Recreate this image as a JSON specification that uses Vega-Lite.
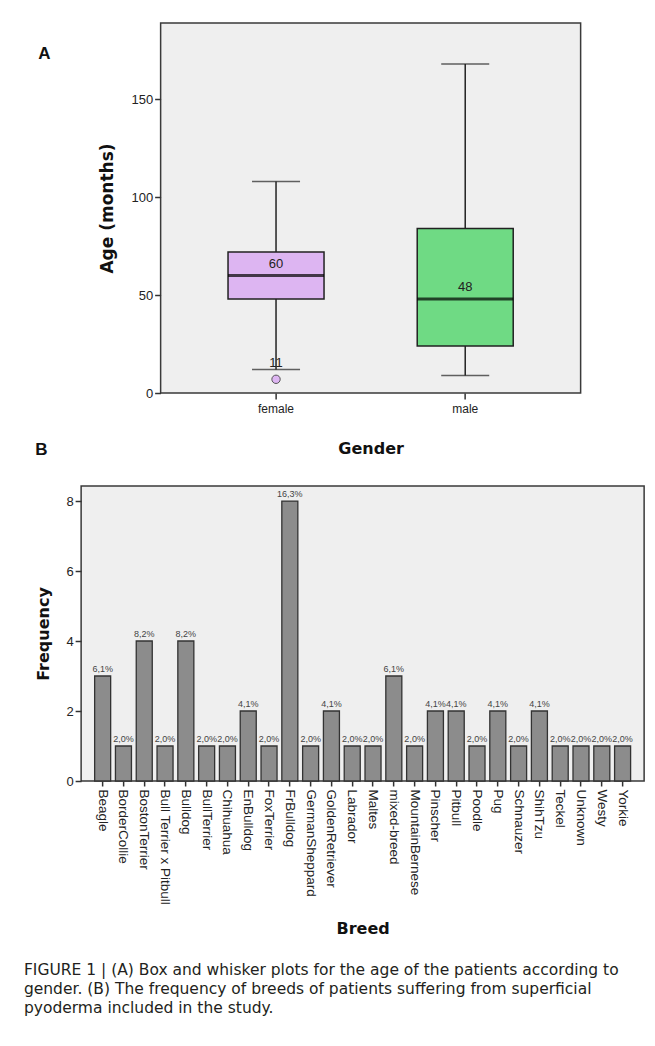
{
  "$schema": "https://vega.github.io/schema/vega-lite/v6.json",
  "background": "white",
  "padding": {"left": 23, "top": 22, "right": 5, "bottom": 5},
  "center": true,
  "spacing": -16,
  "title": {"text": "A", "anchor": "start", "frame": "bounds", "fontSize": 17, "fontWeight": "bold", "font": "Liberation Sans", "color": "#111", "dx": 15, "dy": 41, "offset": 0},
  "config": {
    "view": {"fill": "#EFEFEF", "stroke": "#3a3a3a", "strokeWidth": 1.5},
    "axis": {
      "labelFont": "Liberation Sans", "labelFontSize": 13, "labelColor": "#222",
      "titleFont": "DejaVu Sans", "titleFontWeight": "bold", "titleFontSize": 16, "titleColor": "#111",
      "tickColor": "#333", "domainColor": "#333", "grid": false, "tickSize": 6,
      "domainWidth": 1.5, "tickWidth": 1.5
    }
  },
  "vconcat": [
    {
      "width": 420,
      "height": 370,
      "data": {"values": [
        {"gender": "female", "min": 12, "q1": 48, "median": 60, "q3": 72, "max": 108, "medianLabel": "60"},
        {"gender": "male", "min": 9, "q1": 24, "median": 48, "q3": 84, "max": 168, "medianLabel": "48"}
      ]},
      "encoding": {
        "x": {"field": "gender", "type": "nominal", "sort": null,
          "scale": {"paddingInner": 0, "paddingOuter": 0.11},
          "axis": {"title": "Gender", "labelAngle": 0, "labelFontSize": 12, "labelPadding": 4, "titlePadding": 26, "domain": false}}
      },
      "layer": [
        {"mark": {"type": "rule", "color": "#222", "strokeWidth": 1.5},
         "encoding": {
           "y": {"field": "min", "type": "quantitative", "scale": {"domain": [0, 189], "nice": false},
             "axis": {"title": "Age (months)", "values": [0, 50, 100, 150], "domain": false, "titlePadding": 14, "titleFontSize": 17}},
           "y2": {"field": "max"}}},
        {"mark": {"type": "tick", "color": "#222", "thickness": 1.5, "size": 48, "orient": "horizontal"},
         "encoding": {"y": {"field": "min", "type": "quantitative"}}},
        {"mark": {"type": "tick", "color": "#222", "thickness": 1.5, "size": 48, "orient": "horizontal"},
         "encoding": {"y": {"field": "max", "type": "quantitative"}}},
        {"mark": {"type": "bar", "size": 96, "stroke": "#222", "strokeWidth": 1.5},
         "encoding": {
           "y": {"field": "q1", "type": "quantitative"}, "y2": {"field": "q3"},
           "color": {"field": "gender", "type": "nominal", "scale": {"range": ["#DDB5F2", "#6FDA84"]}, "legend": null}}},
        {"mark": {"type": "tick", "color": "#000", "thickness": 3, "size": 96, "orient": "horizontal"},
         "encoding": {"y": {"field": "median", "type": "quantitative"}}},
        {"mark": {"type": "text", "dy": -12, "fontSize": 13, "font": "Liberation Sans", "color": "#222"},
         "encoding": {"y": {"field": "median", "type": "quantitative"}, "text": {"field": "medianLabel"}}},
        {"data": {"values": [{"gender": "female", "age": 7, "case": "11"}]},
         "layer": [
           {"mark": {"type": "point", "filled": true, "fill": "#DDB5F2", "stroke": "#555", "strokeWidth": 1, "size": 70, "opacity": 1},
            "encoding": {"y": {"field": "age", "type": "quantitative"}}},
           {"mark": {"type": "text", "dy": -16, "fontSize": 13, "font": "Liberation Sans", "color": "#222"},
            "encoding": {"y": {"field": "age", "type": "quantitative"}, "text": {"field": "case"}}}
         ]}
      ]
    },
    {
      "title": {"text": "B", "anchor": "start", "frame": "bounds", "fontSize": 17, "fontWeight": "bold", "font": "Liberation Sans", "color": "#111", "dx": 12, "dy": -22},
      "vconcat": [
        {
          "title": {
            "text": ["FIGURE 1 | (A) Box and whisker plots for the age of the patients according to", "gender. (B) The frequency of breeds of patients suffering from superficial", "pyoderma included in the study."],
            "orient": "bottom", "anchor": "start", "frame": "bounds",
            "fontSize": 15.5, "fontWeight": "normal", "font": "DejaVu Sans",
            "color": "#231f20", "lineHeight": 19, "offset": 26, "dx": -12
          },
          "width": 563,
          "height": 295,
          "data": {"values": [
            {"breed": "Beagle", "n": 3, "pct": "6,1%"},
            {"breed": "BorderCollie", "n": 1, "pct": "2,0%"},
            {"breed": "BostonTerrier", "n": 4, "pct": "8,2%"},
            {"breed": "Bull Terrier x Pitbull", "n": 1, "pct": "2,0%"},
            {"breed": "Bulldog", "n": 4, "pct": "8,2%"},
            {"breed": "BullTerrier", "n": 1, "pct": "2,0%"},
            {"breed": "Chihuahua", "n": 1, "pct": "2,0%"},
            {"breed": "EnBulldog", "n": 2, "pct": "4,1%"},
            {"breed": "FoxTerrier", "n": 1, "pct": "2,0%"},
            {"breed": "FrBulldog", "n": 8, "pct": "16,3%"},
            {"breed": "GermanSheppard", "n": 1, "pct": "2,0%"},
            {"breed": "GoldenRetriever", "n": 2, "pct": "4,1%"},
            {"breed": "Labrador", "n": 1, "pct": "2,0%"},
            {"breed": "Maltes", "n": 1, "pct": "2,0%"},
            {"breed": "mixed-breed", "n": 3, "pct": "6,1%"},
            {"breed": "MountainBernese", "n": 1, "pct": "2,0%"},
            {"breed": "Pinscher", "n": 2, "pct": "4,1%"},
            {"breed": "Pitbull", "n": 2, "pct": "4,1%"},
            {"breed": "Poodle", "n": 1, "pct": "2,0%"},
            {"breed": "Pug", "n": 2, "pct": "4,1%"},
            {"breed": "Schnauzer", "n": 1, "pct": "2,0%"},
            {"breed": "ShihTzu", "n": 2, "pct": "4,1%"},
            {"breed": "Teckel", "n": 1, "pct": "2,0%"},
            {"breed": "Unknown", "n": 1, "pct": "2,0%"},
            {"breed": "Westy", "n": 1, "pct": "2,0%"},
            {"breed": "Yorkie", "n": 1, "pct": "2,0%"}
          ]},
          "encoding": {
            "x": {"field": "breed", "type": "nominal", "sort": null,
              "scale": {"paddingInner": 0.23, "paddingOuter": 0.65},
              "axis": {"title": "Breed", "labelAngle": 90, "labelFontSize": 13.5, "labelPadding": 3, "titlePadding": 16, "tickSize": 5, "domain": false}}
          },
          "resolve": {"axis": {"y": "independent"}},
          "layer": [
            {"mark": {"type": "bar", "fill": "#8C8C8C", "stroke": "#333", "strokeWidth": 1.3},
             "encoding": {
               "y": {"field": "n", "type": "quantitative",
                 "scale": {"domain": [0, 8.43], "nice": false},
                 "axis": {"title": "Frequency", "values": [0, 2, 4, 6, 8], "domain": false, "titlePadding": 14}}}},
            {"mark": {"type": "text", "dy": -7, "fontSize": 9, "font": "Liberation Sans", "color": "#444"},
             "encoding": {
               "y": {"field": "n", "type": "quantitative",
                 "axis": {"orient": "right", "labels": false, "ticks": false, "domain": false, "title": " ", "titleFontSize": 16, "titlePadding": 0}},
               "text": {"field": "pct"}}}
          ]
        }
      ]
    }
  ]
}
